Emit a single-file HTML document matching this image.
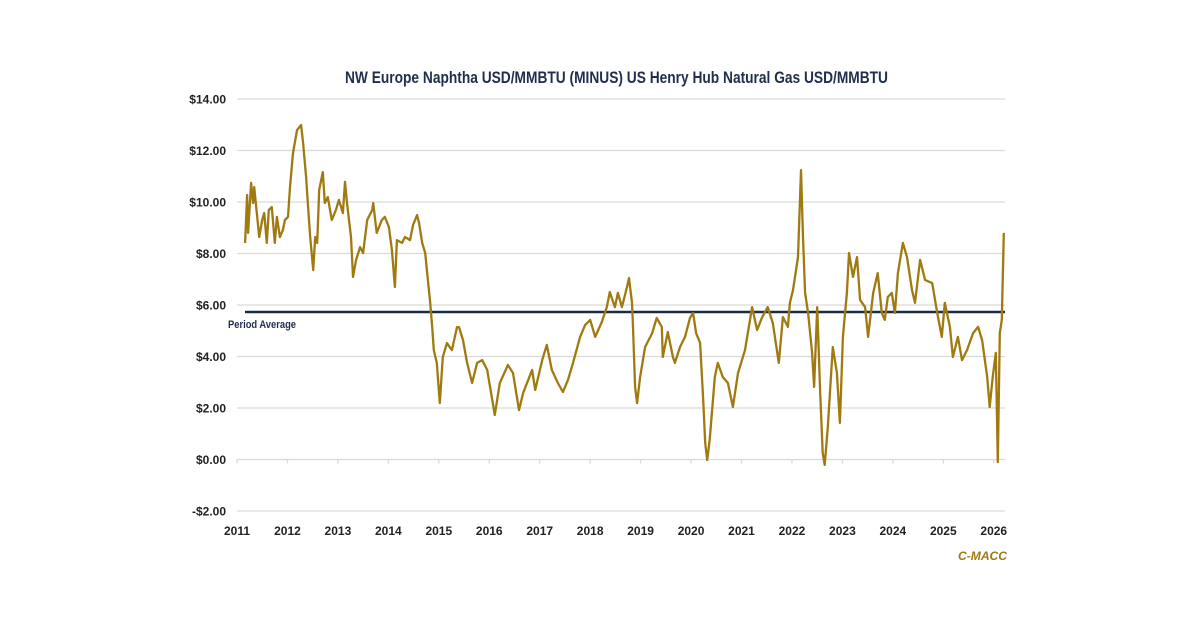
<!DOCTYPE html>
<html><head><meta charset="utf-8"><style>
html,body{margin:0;padding:0;background:#fff;}
svg{display:block;font-family:"Liberation Sans",sans-serif;}
</style></head><body>
<svg id="chart" width="1200" height="627" viewBox="0 0 1200 627" xmlns="http://www.w3.org/2000/svg">
<text x="345" y="83" textLength="543" lengthAdjust="spacingAndGlyphs" font-size="17" font-weight="bold" fill="#1f2d4e">NW Europe Naphtha USD/MMBTU (MINUS) US Henry Hub Natural Gas USD/MMBTU</text>
<g id="grid"></g>
<g id="yticks"></g>
<g id="xticks"></g>
<g id="avg"></g>
<g id="series"></g>
<text x="958" y="560" textLength="49" lengthAdjust="spacingAndGlyphs" font-size="12" font-weight="bold" font-style="italic" fill="#a07a10">C-MACC</text>
</svg>
<script>
const yTicks=[-2,0,2,4,6,8,10,12,14];
const yTickLabels=["-$2.00","$0.00","$2.00","$4.00","$6.00","$8.00","$10.00","$12.00","$14.00"];
const xYears=[2011,2012,2013,2014,2015,2016,2017,2018,2019,2020,2021,2022,2023,2024,2025,2026];
const periodAverage=5.73;
const dates=[2011.16,2011.20,2011.22,2011.28,2011.32,2011.34,2011.40,2011.44,2011.50,2011.54,2011.59,2011.63,2011.69,2011.75,2011.79,2011.85,2011.91,2011.95,
2012.01,2012.05,2012.11,2012.19,2012.27,2012.31,2012.37,2012.41,2012.45,2012.51,2012.55,2012.59,2012.63,2012.70,2012.74,2012.80,2012.88,2012.96,
2013.02,2013.10,2013.14,2013.18,2013.26,2013.30,2013.36,2013.44,2013.50,2013.58,2013.68,2013.70,2013.77,2013.87,2013.93,
2014.01,2014.07,2014.13,2014.17,2014.27,2014.33,2014.43,2014.49,2014.57,2014.61,2014.67,2014.73,2014.77,2014.83,2014.87,2014.90,2014.96,
2015.02,2015.08,2015.16,2015.26,2015.36,2015.40,2015.48,2015.56,2015.66,2015.76,2015.86,2015.96,
2016.11,2016.21,2016.37,2016.47,2016.59,2016.67,2016.85,2016.91,
2017.05,2017.14,2017.24,2017.36,2017.46,2017.56,2017.66,2017.80,2017.90,
2018.00,2018.10,2018.23,2018.33,2018.39,2018.49,2018.55,2018.63,2018.73,2018.77,2018.83,2018.85,2018.89,2018.93,2018.99,
2019.09,2019.23,2019.32,2019.42,2019.44,2019.54,2019.64,2019.68,2019.78,2019.88,2019.98,
2020.04,2020.10,2020.18,2020.24,2020.28,2020.32,2020.37,2020.47,2020.53,2020.63,2020.73,2020.83,2020.93,
2021.07,2021.21,2021.31,2021.41,2021.52,2021.62,2021.74,2021.82,2021.92,2021.96,
2022.02,2022.06,2022.12,2022.18,2022.22,2022.26,2022.32,2022.40,2022.44,2022.50,2022.56,2022.61,2022.65,2022.71,2022.81,2022.89,2022.95,
2023.01,2023.09,2023.13,2023.21,2023.29,2023.35,2023.45,2023.51,2023.61,2023.70,2023.78,2023.84,2023.90,2023.98,
2024.04,2024.10,2024.20,2024.28,2024.38,2024.44,2024.54,2024.64,2024.78,2024.87,2024.97,
2025.03,2025.13,2025.19,2025.29,2025.37,2025.47,2025.59,2025.69,2025.77,2025.87,2025.92,2025.98,
2026.04,2026.08,2026.12,2026.16,2026.20];
const values=[8.41,10.27,8.80,10.74,9.96,10.58,9.42,8.64,9.30,9.57,8.41,9.69,9.80,8.41,9.42,8.64,8.91,9.30,
9.42,10.58,11.90,12.79,12.99,12.29,10.97,9.80,8.64,7.36,8.64,8.41,10.47,11.16,9.96,10.19,9.30,9.69,
10.08,9.57,10.78,9.96,8.64,7.09,7.75,8.25,8.02,9.30,9.69,9.96,8.80,9.30,9.42,
9.03,8.14,6.70,8.52,8.41,8.64,8.52,9.11,9.49,9.18,8.41,8.02,7.24,6.08,5.14,4.25,3.75,
2.19,3.98,4.52,4.25,5.14,5.14,4.64,3.75,2.97,3.75,3.86,3.48,
1.73,2.97,3.67,3.36,1.92,2.58,3.48,2.70,
3.86,4.45,3.48,2.97,2.62,3.09,3.75,4.76,5.22,
5.42,4.76,5.34,5.92,6.50,5.92,6.47,5.92,6.70,7.05,6.08,5.14,2.82,2.19,3.20,
4.37,4.91,5.50,5.15,3.98,4.95,3.98,3.75,4.37,4.76,5.50,
5.69,4.91,4.52,2.31,0.64,-0.02,0.76,3.20,3.75,3.20,2.97,2.04,3.36,
4.25,5.92,5.03,5.53,5.92,5.30,3.75,5.53,5.15,6.08,
6.58,7.09,7.86,11.24,8.64,6.47,5.69,4.14,2.82,5.92,2.58,0.25,-0.21,1.26,4.37,3.36,1.42,
4.76,6.47,8.02,7.09,7.86,6.19,5.92,4.76,6.47,7.24,5.69,5.42,6.31,6.47,
5.69,7.24,8.41,7.86,6.58,6.08,7.75,6.97,6.85,5.81,4.76,
6.08,5.15,3.98,4.76,3.86,4.25,4.91,5.15,4.64,3.20,2.04,3.20,
4.14,-0.10,4.91,5.42,8.80];

const NS="http://www.w3.org/2000/svg";
const X0=237,XPY=50.45,Y0=459.5,YPU=25.75,XR=1005;
function xs(t){return X0+(t-2011)*XPY;}
function ys(v){return Y0-v*YPU;}
function mk(tag,attrs,parent){const e=document.createElementNS(NS,tag);for(const k in attrs)e.setAttribute(k,attrs[k]);parent.appendChild(e);return e;}
const grid=document.getElementById('grid'),yt=document.getElementById('yticks'),xt=document.getElementById('xticks');
yTicks.forEach((v,i)=>{
  const l=mk('line',{x1:X0,x2:XR,y1:ys(v),y2:ys(v),stroke:'#d9d9d9','stroke-width':1.3},grid);
  
  
  const t=mk('text',{x:226,y:ys(v)+4.5,'text-anchor':'end','font-size':12,'font-weight':'bold',fill:'#222'},yt);
  t.textContent=yTickLabels[i];
  
  
});
xYears.forEach(yr=>{
  const tk=mk('line',{x1:xs(yr),x2:xs(yr),y1:ys(0),y2:ys(0)+4,stroke:'#d9d9d9','stroke-width':1.3},grid);
  
  
  const t=mk('text',{x:xs(yr),y:535,'text-anchor':'middle','font-size':12,'font-weight':'bold',fill:'#222'},xt);
  t.textContent=String(yr);
  
  
});
const avg=document.getElementById('avg');
const al=mk('line',{x1:245,x2:XR,y1:ys(periodAverage),y2:ys(periodAverage),stroke:'#1a2b4a','stroke-width':2.5},avg);


const at=mk('text',{x:228,y:ys(periodAverage)+16,textLength:68,lengthAdjust:'spacingAndGlyphs','font-size':11,'font-weight':'bold',fill:'#1f2d4e'},avg);
at.textContent='Period Average';


let d='';
dates.forEach((t,i)=>{d+=(i?'L':'M')+xs(t).toFixed(1)+' '+ys(values[i]).toFixed(1);});
const p=mk('path',{d:d,fill:'none',stroke:'#a07a10','stroke-width':2.3,'stroke-linejoin':'round'},document.getElementById('series'));


</script>
</body></html>
